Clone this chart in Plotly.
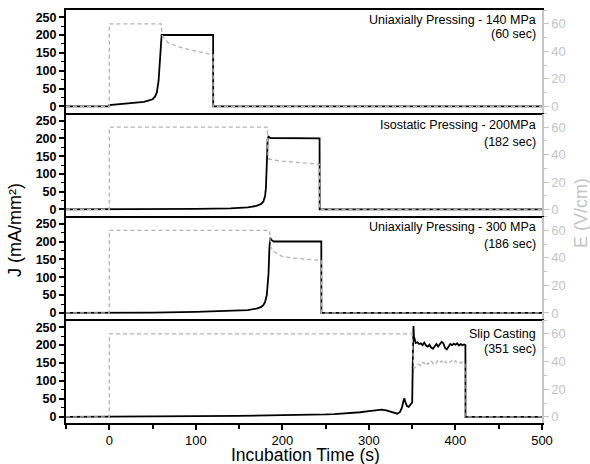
import plotly.graph_objects as go

# ---------------- data ----------------
labels_main = ["Uniaxially Pressing - 140 MPa", "Isostatic Pressing - 200MPa",
               "Uniaxially Pressing - 300 MPa", "Slip Casting"]
labels_time = ["(60 sec)", "(182 sec)", "(186 sec)", "(351 sec)"]

# Panel 1 : Uniaxially pressing 140 MPa
t_J1 = [-50, 0, 0.1, 10, 20, 30, 40, 45, 50, 53, 55, 57, 58, 59, 60, 60.5, 120, 120.1, 500]
J1 = [0, 0, 4, 6, 8, 10, 13, 16, 20, 28, 40, 72, 110, 155, 190, 200, 200, 0, 0]
t_E1 = [-50, 0, 0.1, 60, 60.5, 61.5, 68, 80, 95, 110, 117.5, 120, 120.1, 500]
E1 = [0, 0, 60, 60, 55, 51, 46.3, 43.2, 40.8, 39, 37.7, 37.5, 0, 0]

# Panel 2 : Isostatic pressing 200 MPa
t_J2 = [-50, 0, 50, 100, 140, 160, 170, 175, 178, 180, 181, 182, 182.5, 183, 184, 186, 243, 243.1, 500]
J2 = [0, 0, 0.5, 1.5, 3, 6, 10, 15, 22, 38, 60, 108, 160, 200, 205, 201, 200, 0, 0]
t_E2 = [-50, 0, 0.1, 182.5, 183.5, 190, 200, 210, 220, 230, 243, 243.1, 500]
E2 = [0, 0, 60, 60, 37, 36, 35.3, 34.8, 34.2, 33.6, 33, 0, 0]

# Panel 3 : Uniaxially pressing 300 MPa
t_J3 = [-50, 0, 50, 100, 140, 160, 170, 175, 178, 180, 182, 184, 185, 186, 188, 190, 245, 245.1, 500]
J3 = [0, 0, 1, 3, 5, 8, 12, 16, 22, 30, 50, 110, 180, 210, 203, 200, 200, 0, 0]
t_E3 = [-50, 0, 0.1, 185, 186.5, 190, 195, 200, 210, 220, 230, 240, 245, 245.1, 500]
E3 = [0, 0, 60, 60, 48, 45, 42.5, 41, 40, 39.5, 39, 38.5, 38, 0, 0]

# Panel 4 : Slip casting
t_J4 = [-50, 0, 50, 100, 150, 200, 230, 250, 260, 270, 280, 290, 300, 310, 315, 320, 325,
        330, 333, 336, 338, 340, 341, 342, 344, 346, 348, 350, 351, 351.5,
        352, 354, 356, 358, 360, 362, 364, 366, 368, 370, 372, 374, 376, 378, 380,
        382, 384, 386, 388, 390, 392, 394, 396, 398, 400, 402, 404, 406, 408, 410,
        411.5, 411.6, 500]
J4 = [0, 0, 1, 2, 3, 4, 5, 7, 8, 9, 11, 13, 16, 20, 20, 18, 14,
      10, 9, 14, 25, 45, 52, 42, 30, 28, 33, 40, 200, 253,
      225, 206, 208, 203, 205, 200, 207, 199, 196, 201, 193, 190, 198, 203, 196,
      201, 209, 205, 192, 188, 197, 203, 200, 204, 201, 205, 199, 203, 200, 202,
      200, 0, 0]
t_E4 = [-50, 0, 0.1, 350, 351,
        352, 354, 356, 358, 360, 362, 364, 366, 368, 370, 372, 374, 376, 378, 380,
        382, 384, 386, 388, 390, 392, 394, 396, 398, 400, 402, 404, 406, 408, 410,
        411, 411.1, 500]
E4 = [0, 0, 60, 60, 45,
      35, 36, 37.5, 38, 37, 39.5, 38.5, 40, 38, 39.5, 40.5, 38.5, 40, 39, 41,
      39.5, 40.5, 38.5, 40, 39, 40.5, 39.5, 40.8, 39.2, 40.5, 39.5, 40, 38.8, 39.5, 39,
      39, 0, 0]

J_t = [t_J1, t_J2, t_J3, t_J4]
J_v = [J1, J2, J3, J4]
E_t = [t_E1, t_E2, t_E3, t_E4]
E_v = [E1, E2, E3, E4]

x_range = [-50, 500]
j_ticks = [0, 50, 100, 150, 200, 250]
e_ticks = [0, 20, 40, 60]
x_ticks = [0, 100, 200, 300, 400, 500]

# ---------------- layout constants ----------------
W, H = 590, 464
FONT = "Liberation Sans, Arial, sans-serif"
GRAY_LINE = "#b3b3b3"
GRAY_AX = "#c4c4c4"
# positions below are in window pixels
x0_px, x1_px = 66, 542
panel_px = [(10, 112.5), (113.5, 215.5), (216.5, 319), (320, 423)]
label1_px = [20, 125, 227, 333.5]
label2_px = [34, 141.5, 244, 348.5]

def px_x(p):
    return p / W

def px_y(p):
    return 1 - p / H

fig = go.Figure()
layout = dict(
    width=W, height=H, margin=dict(l=0, r=0, t=0, b=0, autoexpand=False),
    paper_bgcolor="white", plot_bgcolor="white", showlegend=False,
    font=dict(family=FONT, color="black"),
)
xdom = [px_x(x0_px), px_x(x1_px)]

for i in range(4):
    n = i + 1
    xs = "x" if n == 1 else f"x{n}"
    yl = "y" if n == 1 else f"y{n}"
    yr = f"y{n + 4}"
    fig.add_trace(go.Scatter(x=J_t[i], y=J_v[i], mode="lines", xaxis=xs, yaxis=yl,
                             line=dict(color="black", width=1.8)))
    fig.add_trace(go.Scatter(x=E_t[i], y=E_v[i], mode="lines", xaxis=xs, yaxis=yr,
                             line=dict(color=GRAY_LINE, width=1.3, dash="4px,3px")))
    top, bot = panel_px[i]
    dom = [px_y(bot), px_y(top)]
    bottom = (n == 4)
    xa = dict(domain=xdom, range=x_range, anchor=yl, showgrid=False, zeroline=False,
              automargin=False,
              showline=True, linecolor="black", linewidth=2, mirror=(n == 1),
              tickvals=x_ticks, showticklabels=bottom,
              ticks="outside" if bottom else "", ticklen=4.5, tickwidth=1.5, tickcolor="black",
              tickfont=dict(size=13, family=FONT, color="black"))
    if bottom:
        xa["minor"] = dict(dtick=50, tick0=0, ticks="outside", ticklen=3.5, tickwidth=1.5,
                           tickcolor="black")
    if n > 1:
        xa["matches"] = "x"
    layout["xaxis" if n == 1 else f"xaxis{n}"] = xa
    layout["yaxis" if n == 1 else f"yaxis{n}"] = dict(
        domain=dom, range=[-17, 270], anchor=xs, showgrid=False, zeroline=False,
        automargin=False,
        showline=True, linecolor="black", linewidth=2,
        tickvals=j_ticks, ticks="outside", ticklen=5, tickwidth=1.5, tickcolor="black",
        minor=dict(dtick=25, tick0=0, ticks="outside", ticklen=3, tickwidth=1.2, tickcolor="black"),
        tickfont=dict(size=12.5, family=FONT, color="black", weight="bold"),
    )
    layout[f"yaxis{n + 4}"] = dict(
        overlaying=yl, side="right", anchor=xs, range=[-4.4, 70], showgrid=False, zeroline=False,
        automargin=False,
        showline=True, linecolor=GRAY_AX, linewidth=1.5,
        tickvals=e_ticks, ticks="outside", ticklen=5, tickwidth=1.2, tickcolor=GRAY_AX,
        minor=dict(dtick=10, tick0=0, ticks="outside", ticklen=3, tickwidth=1, tickcolor=GRAY_AX),
        tickfont=dict(size=13, family=FONT, color=GRAY_AX),
    )

anns = []
for i in range(4):
    anns.append(dict(x=px_x(538), y=px_y(label1_px[i]), xref="paper", yref="paper",
                     text=labels_main[i], showarrow=False, xanchor="right", yanchor="middle",
                     font=dict(size=12.5, family=FONT, color="black")))
    anns.append(dict(x=px_x(538), y=px_y(label2_px[i]), xref="paper", yref="paper",
                     text=labels_time[i], showarrow=False, xanchor="right", yanchor="middle",
                     font=dict(size=12.5, family=FONT, color="black")))
anns.append(dict(x=px_x(15), y=px_y(230), xref="paper", yref="paper", text="J (mA/mm²)",
                 textangle=-90, showarrow=False, xanchor="center", yanchor="middle",
                 font=dict(size=18, family=FONT, color="black")))
anns.append(dict(x=px_x(581), y=px_y(213), xref="paper", yref="paper", text="E (V/cm)",
                 textangle=-90, showarrow=False, xanchor="center", yanchor="middle",
                 font=dict(size=18, family=FONT, color=GRAY_AX)))
anns.append(dict(x=px_x(305), y=px_y(454.5), xref="paper", yref="paper", text="Incubation Time (s)",
                 showarrow=False, xanchor="center", yanchor="middle",
                 font=dict(size=17.5, family=FONT, color="black")))
layout["annotations"] = anns

fig.update_layout(**layout)
# remove the default page margin so the figure fills the window exactly
fig.write_html("out.html", config={"displayModeBar": False},
               post_script="document.body.style.margin='0px';document.body.style.overflow='hidden';")
